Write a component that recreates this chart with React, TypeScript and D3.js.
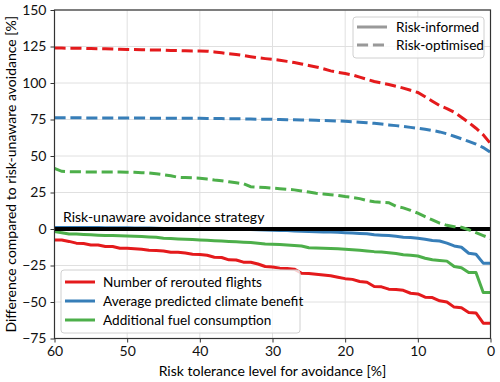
import React, { useEffect, useRef } from 'react';
import * as d3 from 'd3';

// risk tolerance levels [%], drawn from 60 down to 0
const tolerance = [60, 59, 58, 57, 56, 55, 54, 53, 52, 51, 50, 49, 48, 47, 46, 45, 44, 43, 42, 41, 40,
  39, 38, 37, 36, 35, 34, 33, 32, 31, 30, 29, 28, 27, 26, 25, 24, 23, 22, 21, 20,
  19, 18, 17, 16, 15, 14, 13, 12, 11, 10, 9, 8, 7, 6, 5, 4, 3, 2, 1, 0];

// risk-informed (solid)
const reroutedInformed = [-7.5, -7.5, -8.5, -9.7, -10, -10.9, -11, -12, -12, -13.2, -13.2, -13.5, -13.9, -14.5, -14.8, -15, -15.9, -16, -16.5, -17.3, -17.5,
  -18, -19.3, -19.5, -21.1, -21.2, -22.7, -22.8, -24, -25.7, -26, -26.8, -27, -27.5, -30.3, -30.5, -31, -31.5, -32, -33, -34,
  -34.5, -36, -36.5, -39.4, -39.6, -41.2, -41.5, -42, -44, -44.5, -46.7, -47, -49.2, -50, -53.5, -54, -57.2, -57.5, -64.5, -64.5];
const climateInformed = [1, 1, 1, 1, 1, 1, 1, 0.9, 0.9, 0.8, 0.8, 0.7, 0.7, 0.6, 0.5, 0.4, 0.3, 0.2, 0.1, 0, 0,
  0, 0, 0, 0, 0, -0.2, -0.3, -0.5, -0.7, -0.8, -1, -1.1, -1.3, -1.5, -1.7, -1.8, -2, -2.1, -2.3, -2.5,
  -2.7, -3, -3.3, -4, -4.2, -4.5, -5, -5.6, -5.9, -6.3, -7, -7.9, -8.2, -9.7, -11.6, -12.5, -16.6, -17.3, -23.4, -23.4];
const fuelInformed = [-1.8, -2.5, -3.4, -3.5, -3.7, -4, -4.2, -4.4, -4.5, -4.7, -4.8, -5, -5.2, -5.4, -5.6, -6.3, -6.5, -6.8, -7, -7.2, -7.5,
  -7.7, -8, -8.3, -8.6, -8.8, -9, -9.3, -9.8, -10.2, -10.4, -10.7, -11, -11.3, -11.6, -12.8, -13, -13.2, -13.4, -13.6, -13.9,
  -14.2, -14.5, -15, -15.5, -15.8, -16.2, -16.8, -17.7, -18, -18.5, -20, -21.1, -21.5, -22, -25.7, -26.5, -29.8, -29.8, -43.5, -43.5];

// risk-optimised (dashed)
const reroutedOptimised = [124, 123.9, 123.8, 123.8, 123.7, 123.6, 123.5, 123.4, 123.3, 123.1, 123, 122.9, 122.8, 122.7, 122.6, 122.5, 122.3, 122.2, 122.1, 122, 122,
  121.8, 121.3, 120.7, 120, 119.5, 118.8, 118, 117.3, 116.7, 116.2, 115.6, 114.8, 114, 113, 112, 111, 109.8, 108.3, 107.3, 106.5,
  105.5, 104, 102.5, 101, 100, 99, 97.8, 96.5, 95, 93.5, 90.6, 87.5, 84.5, 82.5, 80, 76.5, 73, 69, 64.5, 58.5];
const climateOptimised = [76.2, 76.2, 76.2, 76.2, 76.1, 76.1, 76.1, 76.1, 76, 76, 76, 76, 76, 75.9, 75.9, 75.9, 75.9, 75.8, 75.8, 75.8, 75.8,
  75.7, 75.6, 75.6, 75.5, 75.5, 75.4, 75.3, 75.2, 75.2, 75.1, 75, 74.9, 74.8, 74.7, 74.7, 74.5, 74.3, 74.2, 74, 73.8,
  73.5, 73.2, 72.8, 72.4, 71.9, 71.3, 70.8, 70.2, 69.6, 69, 68.3, 67.5, 66.5, 65.2, 63.5, 61.8, 60, 58.2, 55.8, 52.5];
const fuelOptimised = [41.5, 39.5, 39.3, 39.2, 39.1, 39, 39, 39, 39, 39, 38.9, 38.8, 38.6, 38.3, 37.8, 37.2, 36.5, 35.4, 35.2, 35, 34.8,
  34.2, 33.5, 33, 32.3, 31.7, 31, 29, 28.7, 28.4, 28, 27.6, 27.2, 26.8, 26.1, 25.3, 24.5, 24, 23.5, 23, 22.2,
  21.6, 20.8, 19.5, 18.6, 18.3, 18, 15.5, 14.5, 12.8, 10.8, 8.5, 6.2, 4, 2.5, 1.6, 1.2, -0.5, -2.5, -4.5, -6.5];

const seriesNames = ['Number of rerouted flights', 'Average predicted climate benefit', 'Additional fuel consumption'];
const seriesColors = ['#e41a1c', '#377eb8', '#4daf4a'];
const styleNames = ['Risk-informed', 'Risk-optimised'];
const xTicks = [60, 50, 40, 30, 20, 10, 0];
const yTicks = [-75, -50, -25, 0, 25, 50, 75, 100, 125, 150];

export default function App() {
  const ref = useRef<SVGSVGElement>(null);

  useEffect(() => {
    document.body.style.margin = '0';
    const width = 500;
    const height = 382;
    const left = 54.5, right = 490.5, top = 10, bottom = 338.5;
    const font = 'Lato, sans-serif';

    const svg = d3.select(ref.current);
    svg.selectAll('*').remove();

    const x = d3.scaleLinear().domain([60, 0]).range([left, right]);
    const y = d3.scaleLinear().domain([-75, 150]).range([bottom, top]);

    // grid
    svg.append('g').selectAll('line.vx').data(xTicks).enter().append('line')
      .attr('x1', d => x(d)).attr('x2', d => x(d)).attr('y1', top).attr('y2', bottom)
      .attr('stroke', '#e0e0e0').attr('stroke-width', 1);
    svg.append('g').selectAll('line.hy').data(yTicks).enter().append('line')
      .attr('x1', left).attr('x2', right).attr('y1', d => y(d)).attr('y2', d => y(d))
      .attr('stroke', '#e0e0e0').attr('stroke-width', 1);

    const line = d3.line<number>()
      .x((d, i) => x(tolerance[i]))
      .y(d => y(d));

    const informed = [reroutedInformed, climateInformed, fuelInformed];
    const optimised = [reroutedOptimised, climateOptimised, fuelOptimised];

    // solid lines
    informed.forEach((vals, k) => {
      svg.append('path').datum(vals)
        .attr('d', line)
        .attr('fill', 'none')
        .attr('stroke', seriesColors[k])
        .attr('stroke-width', 3)
        .attr('stroke-linejoin', 'round');
    });

    // risk-unaware reference at zero
    svg.append('line')
      .attr('x1', left).attr('x2', right).attr('y1', y(0)).attr('y2', y(0))
      .attr('stroke', '#000').attr('stroke-width', 4);
    svg.append('text')
      .attr('x', 63).attr('y', y(0) - 7)
      .style('font-family', font).style('font-size', '14px')
      .text('Risk-unaware avoidance strategy');

    // dashed lines
    optimised.forEach((vals, k) => {
      svg.append('path').datum(vals)
        .attr('d', line)
        .attr('fill', 'none')
        .attr('stroke', seriesColors[k])
        .attr('stroke-width', 3)
        .attr('stroke-dasharray', '11.1,4.8');
    });

    // frame
    svg.append('rect')
      .attr('x', left).attr('y', top).attr('width', right - left).attr('height', bottom - top)
      .attr('fill', 'none').attr('stroke', '#333').attr('stroke-width', 1.2);

    // y axis
    const yAxis = svg.append('g')
      .attr('transform', `translate(${left},0)`)
      .call(d3.axisLeft(y).tickValues(yTicks).tickSize(4).tickPadding(4)
        .tickFormat(d => (+d < 0 ? '\u2212' + Math.abs(+d) : String(d))));
    yAxis.select('.domain').remove();
    yAxis.selectAll('.tick line').attr('stroke', '#333');
    yAxis.selectAll('.tick text')
      .style('font-family', font).style('font-size', '14px').attr('fill', '#111');

    // x axis
    const xAxis = svg.append('g')
      .attr('transform', `translate(0,${bottom})`)
      .call(d3.axisBottom(x).tickValues(xTicks).tickSize(4).tickPadding(4).tickFormat(d3.format('d')));
    xAxis.select('.domain').remove();
    xAxis.selectAll('.tick line').attr('stroke', '#333');
    xAxis.selectAll('.tick text')
      .style('font-family', font).style('font-size', '14px').attr('fill', '#111');

    // axis titles
    svg.append('text')
      .attr('x', (left + right) / 2).attr('y', 376)
      .attr('text-anchor', 'middle')
      .style('font-family', font).style('font-size', '14px')
      .text('Risk tolerance level for avoidance [%]');
    svg.append('text')
      .attr('transform', `translate(16,${(top + bottom) / 2}) rotate(-90)`)
      .attr('text-anchor', 'middle')
      .style('font-family', font).style('font-size', '14px')
      .text('Difference compared to risk-unaware avoidance [%]');

    // line style legend (upper right)
    const lg1 = svg.append('g');
    lg1.append('rect')
      .attr('x', 353).attr('y', 17).attr('width', 131).attr('height', 41).attr('rx', 3)
      .attr('fill', 'white').attr('fill-opacity', 0.8).attr('stroke', '#d0d0d0');
    styleNames.forEach((name, i) => {
      const ly = 27 + i * 18;
      lg1.append('line')
        .attr('x1', 357).attr('x2', 387).attr('y1', ly).attr('y2', ly)
        .attr('stroke', '#999').attr('stroke-width', 3)
        .attr('stroke-dasharray', i === 1 ? '11.1,4.8' : null);
      lg1.append('text')
        .attr('x', 396).attr('y', ly).attr('dy', '0.35em')
        .style('font-family', font).style('font-size', '13.6px')
        .text(name);
    });

    // series legend (lower left)
    const lg2 = svg.append('g');
    lg2.append('rect')
      .attr('x', 61).attr('y', 270).attr('width', 239).attr('height', 63).attr('rx', 3)
      .attr('fill', 'white').attr('fill-opacity', 0.8).attr('stroke', '#d0d0d0');
    seriesNames.forEach((name, i) => {
      const ly = 282 + i * 19;
      lg2.append('line')
        .attr('x1', 65).attr('x2', 95).attr('y1', ly).attr('y2', ly)
        .attr('stroke', seriesColors[i]).attr('stroke-width', 3);
      lg2.append('text')
        .attr('x', 103).attr('y', ly).attr('dy', '0.35em')
        .style('font-family', font).style('font-size', '13.6px')
        .text(name);
    });

    svg.attr('width', width).attr('height', height);
  }, []);

  return (
    <svg ref={ref} width={500} height={382} style={{ display: 'block', background: 'white' }} />
  );
}
